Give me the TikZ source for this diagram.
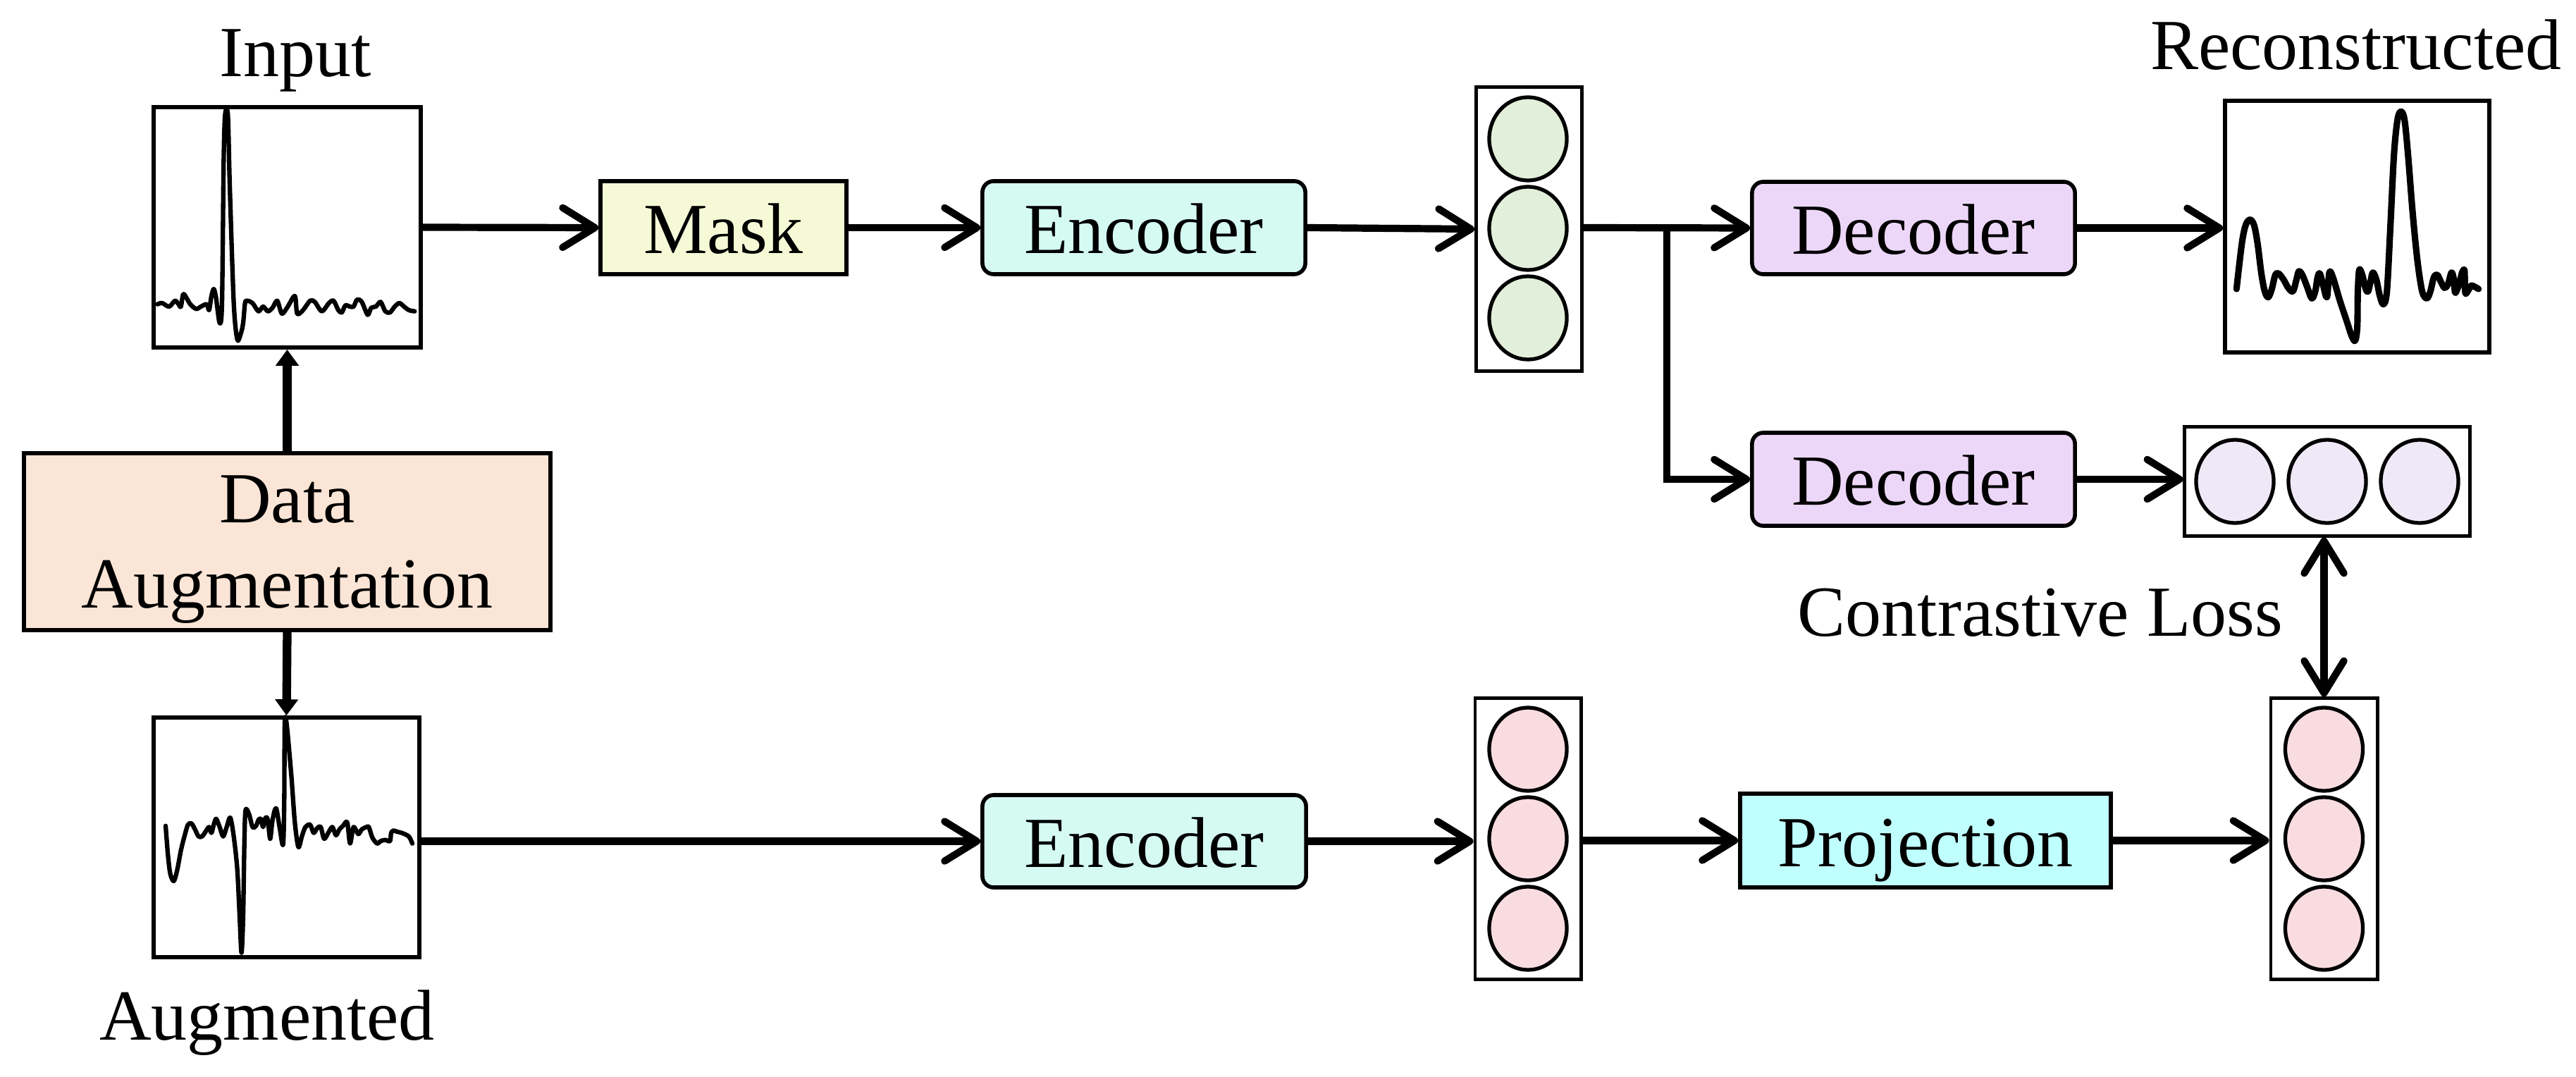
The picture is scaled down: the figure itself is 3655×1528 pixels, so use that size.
\documentclass[tikz,border=0pt]{standalone}
\usepackage{fontspec}
\setmainfont{Liberation Serif}
\usetikzlibrary{arrows.meta,shapes.geometric}
\definecolor{maskfill}{HTML}{F5F9D6}
\definecolor{encfill}{HTML}{D5FAF2}
\definecolor{decfill}{HTML}{EDD7F8}
\definecolor{projfill}{HTML}{BFFFFE}
\definecolor{dafill}{HTML}{FBE5D6}
\definecolor{greenc}{HTML}{E2EFDA}
\definecolor{purplec}{HTML}{EFE8F7}
\definecolor{pinkc}{HTML}{F8DCE0}
\begin{document}
\begin{tikzpicture}[x=0.01cm,y=-0.01cm,
  font=\fontsize{29}{34.6}\selectfont,
  blk/.style={draw, line width=1.6pt, inner sep=0pt, text height=21pt, text depth=0pt},
  rblk/.style={blk, rounded corners=0.16cm},
  plotbox/.style={draw, line width=1.6pt, inner sep=0pt},
  vecbox/.style={draw, line width=1.4pt, inner sep=0pt, fill=white},
  cell/.style={draw, ellipse, line width=1.5pt, inner sep=0pt, minimum width=1.1cm, minimum height=1.18cm},
  arr/.style={line width=2.9pt, -{Straight Barb[length=13pt,width=16pt,round]}},
  darr/.style={line width=2.9pt, {Straight Barb[length=13pt,width=16pt,round]}-{Straight Barb[length=13pt,width=16pt,round]}},
  tarr/.style={line width=3.5pt, -{Triangle[length=6.5pt,width=9pt]}},
  sig/.style={line width=1.8pt, line join=round, line cap=round}
]
\useasboundingbox (0,0) rectangle (3655,1528);

% plot boxes
\node[plotbox, minimum width=3.79cm, minimum height=3.41cm] (inbox) at (407.5,322.5) {};
\node[plotbox, minimum width=3.77cm, minimum height=3.40cm] (augbox) at (406.5,1188) {};
\node[plotbox, minimum width=3.75cm, minimum height=3.57cm] (recbox) at (3344.5,321.5) {};

% labels
\node[anchor=base, inner sep=0pt] (inlab) at (419,109) {Input};
\node[anchor=base, inner sep=0pt] (auglab) at (379,1475) {Augmented};
\node[anchor=base, inner sep=0pt] (reclab) at (3343,99) {Reconstructed};
\node[anchor=base, inner sep=0pt] (closs) at (2895,902) {Contrastive Loss};

% blocks
\node[draw, line width=1.6pt, inner sep=0pt, fill=dafill, minimum width=7.47cm, minimum height=2.51cm, align=center, text depth=0pt] (da) at (407.5,768.5) {Data\\Augmentation};
\node[blk, fill=maskfill, minimum width=3.49cm, minimum height=1.32cm] (mask) at (1026.5,323) {Mask};
\node[rblk, fill=encfill, minimum width=4.58cm, minimum height=1.32cm] (enc1) at (1623,323) {Encoder};
\node[rblk, fill=encfill, minimum width=4.59cm, minimum height=1.31cm] (enc2) at (1623.5,1193.5) {Encoder};
\node[rblk, fill=decfill, minimum width=4.58cm, minimum height=1.31cm] (dec1) at (2715,323.5) {Decoder};
\node[rblk, fill=decfill, minimum width=4.58cm, minimum height=1.32cm] (dec2) at (2715,680) {Decoder};
\node[blk, fill=projfill, minimum width=5.26cm, minimum height=1.33cm] (proj) at (2732,1192.5) {Projection};

% vectors
\node[vecbox, minimum width=1.5cm, minimum height=4.02cm] (vec1) at (2169.5,325) {};
\node[cell, fill=greenc] (c11) at (2168,197) {};
\node[cell, fill=greenc] (c12) at (2168,324) {};
\node[cell, fill=greenc] (c13) at (2168,451) {};

\node[vecbox, minimum width=1.5cm, minimum height=3.98cm] (vec4) at (2168,1190) {};
\node[cell, fill=pinkc] (c41) at (2168,1063) {};
\node[cell, fill=pinkc] (c42) at (2168,1190) {};
\node[cell, fill=pinkc] (c43) at (2168,1317) {};

\node[vecbox, minimum width=1.51cm, minimum height=3.98cm] (vec3) at (3297.5,1190) {};
\node[cell, fill=pinkc] (c31) at (3297.5,1063) {};
\node[cell, fill=pinkc] (c32) at (3297.5,1190) {};
\node[cell, fill=pinkc] (c33) at (3297.5,1317) {};

\node[vecbox, minimum width=4.04cm, minimum height=1.54cm] (vec2) at (3302,683) {};
\node[cell, fill=purplec] (c21) at (3171,683) {};
\node[cell, fill=purplec] (c22) at (3302,683) {};
\node[cell, fill=purplec] (c23) at (3433,683) {};

% signals
\begin{scope}[shift={(200,130)}, scale=1/3]
\draw[sig] plot[smooth, tension=0.5] coordinates {(70,905) (90,900) (120,915) (145,890) (160,905) (170,915) (180,862) (195,880) (210,905) (235,925) (255,915) (280,905) (290,930) (300,870) (310,840) (320,880) (335,985) (345,900) (352,300) (358,100) (370,100) (378,400) (395,900) (410,1055) (425,1030) (435,985) (443,900) (452,890) (475,900) (500,935) (520,915) (540,935) (560,920) (580,890) (600,945) (625,915) (655,870) (665,945) (690,930) (720,890) (740,895) (770,935) (800,900) (820,890) (840,930) (855,940) (870,910) (890,915) (905,915) (920,885) (940,895) (965,950) (980,920) (1000,915) (1020,895) (1040,935) (1060,940) (1080,915) (1100,900) (1120,915) (1140,930) (1165,935)};
\end{scope}
\begin{scope}[shift={(200,1000)}, scale=1/3]
\draw[sig] plot[smooth, tension=0.5] coordinates {(105,515) (115,640) (125,720) (140,750) (155,700) (170,620) (185,560) (200,510) (215,505) (230,530) (245,560) (260,560) (275,540) (290,520) (300,545) (310,510) (320,485) (335,520) (350,560) (365,520) (380,480) (395,560) (410,700) (420,900) (428,1055) (435,900) (440,600) (445,450) (460,465) (475,520) (490,515) (500,490) (510,485) (520,520) (530,480) (540,490) (550,570) (560,490) (575,440) (590,520) (605,595) (610,400) (612,80) (620,80) (640,300) (655,500) (670,605) (685,560) (700,520) (720,510) (735,545) (750,525) (765,520) (780,570) (800,540) (815,520) (830,555) (845,530) (860,515) (878,500) (890,590) (905,520) (925,550) (940,530) (960,520) (970,520) (985,565) (1005,590) (1020,580) (1040,575) (1060,580) (1065,545) (1075,535) (1090,540) (1110,545) (1140,560) (1155,590)};
\end{scope}
\begin{scope}[shift={(3140,120)}, scale=1/3]
\draw[sig, line width=2.6pt] plot[smooth, tension=0.55] coordinates {(100,870) (110,780) (125,660) (140,595) (158,575) (175,600) (190,680) (205,800) (220,880) (235,905) (250,870) (265,810) (280,805) (300,830) (320,865) (340,880) (355,830) (365,795) (380,810) (400,860) (420,910) (435,880) (445,820) (455,805) (470,860) (485,905) (495,800) (510,820) (540,920) (570,1010) (590,1070) (605,1090) (614,1030) (616,890) (622,790) (635,810) (650,870) (660,880) (670,840) (680,800) (695,830) (710,900) (725,935) (740,880) (755,600) (770,300) (785,150) (800,115) (815,150) (830,300) (850,550) (870,750) (890,880) (910,910) (925,880) (940,820) (955,810) (970,840) (985,865) (1000,850) (1015,800) (1025,830) (1030,885) (1040,870) (1050,840) (1060,800) (1070,790) (1072,850) (1075,890) (1090,870) (1100,855) (1130,870)};
\end{scope}

% connectors
\draw[tarr] (da.north) -- (inbox.south);
\draw[tarr] (da.south) -- (augbox.north);
\draw[arr] (inbox.east) -- (mask.west);
\draw[arr] (mask.east) -- (enc1.west);
\draw[arr] (enc1.east) -- (vec1.west);
\coordinate (br) at (2365,323);
\draw[arr] (vec1.east |- br) -- (dec1.west);
\draw[arr] (br) |- (dec2.west);
\draw[arr] (dec1.east) -- (recbox.west |- dec1.east);
\draw[arr] (dec2.east) -- (vec2.west |- dec2.east);
\draw[darr] (vec2.south -| vec3.north) -- (vec3.north);
\draw[arr] (augbox.east |- enc2.west) -- (enc2.west);
\draw[arr] (enc2.east) -- (vec4.west |- enc2.east);
\draw[arr] (vec4.east |- proj.west) -- (proj.west);
\draw[arr] (proj.east) -- (vec3.west |- proj.east);
\end{tikzpicture}
\end{document}
